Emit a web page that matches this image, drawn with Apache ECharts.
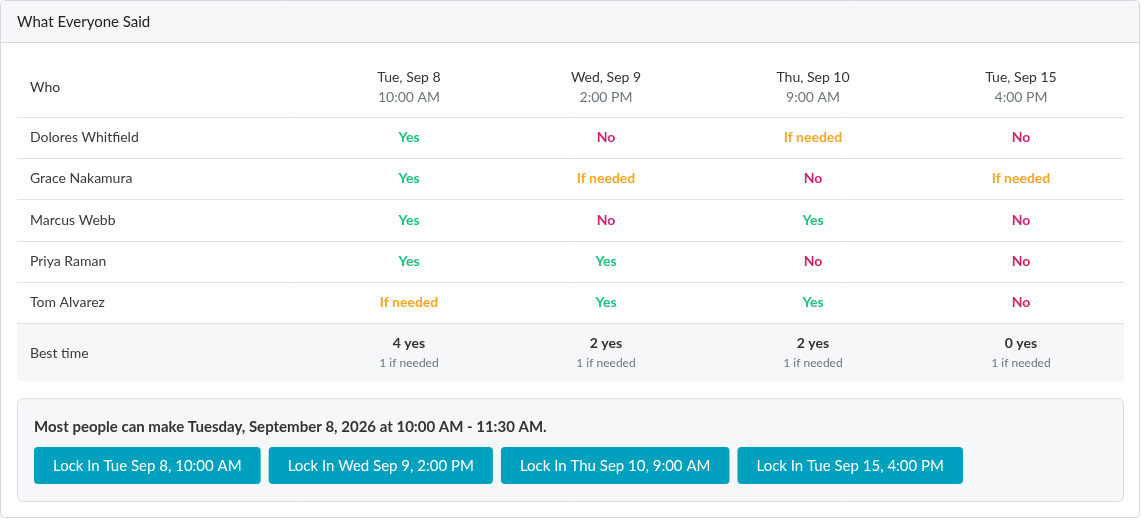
<!DOCTYPE html>
<html>
<head>
<meta charset="utf-8">
<script src="https://cdn.jsdelivr.net/npm/echarts@6/dist/echarts.min.js"></script>
<style>
    html, body { margin: 0; padding: 0; background: #fff; }
    #main { width: 1141px; height: 520px; }
</style>
</head>
<body>
<div id="main"></div>
<script>
var people = ['Dolores Whitfield', 'Grace Nakamura', 'Marcus Webb', 'Priya Raman', 'Tom Alvarez'];
var slotDays = ['Tue, Sep 8', 'Wed, Sep 9', 'Thu, Sep 10', 'Tue, Sep 15'];
var slotTimes = ['10:00 AM', '2:00 PM', '9:00 AM', '4:00 PM'];
var answers = [
    ['Yes', 'No', 'If needed', 'No'],
    ['Yes', 'If needed', 'No', 'If needed'],
    ['Yes', 'No', 'Yes', 'No'],
    ['Yes', 'Yes', 'No', 'No'],
    ['If needed', 'Yes', 'Yes', 'No']
];
var yesCounts = [4, 2, 2, 0];
var ifNeededCounts = [1, 1, 1, 1];
var buttonLabels = ['Lock In Tue Sep 8, 10:00 AM', 'Lock In Wed Sep 9, 2:00 PM', 'Lock In Thu Sep 10, 9:00 AM', 'Lock In Tue Sep 15, 4:00 PM'];
var summary = 'Most people can make Tuesday, September 8, 2026 at 10:00 AM - 11:30 AM.';

var FONT = 'Lato, "Noto Sans", sans-serif';
var answerColor = { 'Yes': '#1cc47a', 'No': '#d1236b', 'If needed': '#f5a623' };
var colX = [409, 606, 813, 1021];
var rowY0 = 117, rowH = 41.2;

var els = [];
function txt(x, y, s, opt) {
    opt = opt || {};
    els.push({
        type: 'text', x: x, y: y, silent: true,
        style: {
            text: s, fill: opt.color || '#3a3a3a', font: (opt.weight || 'normal') + ' ' + (opt.size || 14) + 'px ' + FONT,
            align: opt.align || 'left', verticalAlign: 'middle'
        }
    });
}
function rect(x, y, w, h, fill, stroke, r) {
    els.push({ type: 'rect', silent: true, shape: { x: x, y: y, width: w, height: h, r: r || 0 },
        style: { fill: fill, stroke: stroke || null, lineWidth: 1 } });
}
function hline(y, x1, x2, c) {
    els.push({ type: 'line', silent: true, shape: { x1: x1, y1: y, x2: x2, y2: y }, style: { stroke: c || '#dee2e6', lineWidth: 1 } });
}

// card
rect(0.5, 0.5, 1139, 517, '#fff', '#d6d8db', 4);
rect(1, 1, 1138, 41, '#f7f7f9', null, 4);
hline(42.5, 1, 1139, '#d6d8db');
txt(17, 22, 'What Everyone Said', { size: 15, color: '#222' });

// table header
txt(30, 87, 'Who', { size: 14, color: '#333' });
slotDays.forEach(function (d, i) {
    txt(colX[i], 77, d, { align: 'center', color: '#333' });
    txt(colX[i], 97, slotTimes[i], { align: 'center', color: '#6c757d' });
});

// rows
people.forEach(function (p, r) {
    var y = rowY0 + r * rowH;
    hline(Math.round(y) + 0.5, 17, 1124);
    txt(30, y + rowH / 2, p, { color: '#3a3a3a' });
    answers[r].forEach(function (a, c) {
        txt(colX[c], y + rowH / 2, a, { align: 'center', weight: 'bold', color: answerColor[a] });
    });
});
var bestY = rowY0 + people.length * rowH;
rect(17, bestY, 1107, 58, '#f6f7f9');
hline(Math.round(bestY) + 0.5, 17, 1124);
txt(30, bestY + 30, 'Best time', { color: '#3a3a3a' });
yesCounts.forEach(function (n, c) {
    txt(colX[c], bestY + 20, n + ' yes', { align: 'center', weight: 'bold', color: '#333' });
    txt(colX[c], bestY + 40, ifNeededCounts[c] + ' if needed', { align: 'center', size: 12, color: '#6c757d' });
});

// summary box
rect(17.5, 398.5, 1106, 103, '#f6f7f9', '#dcdfe3', 5);
txt(34, 427, summary, { size: 15, weight: 'bold', color: '#333' });
var bx = 34;
buttonLabels.forEach(function (b) {
    var w = echarts.format.getTextRect ? echarts.format.getTextRect(b, '15px ' + FONT).width + 38 : b.length * 8.4 + 38;
    rect(bx, 447, w, 37, '#00a0bf', null, 4);
    txt(bx + w / 2, 466, b, { align: 'center', size: 15, color: '#fff' });
    bx += w + 8;
});

var chart = echarts.init(document.getElementById('main'), null, { renderer: 'canvas' });
chart.setOption({ animation: false, graphic: { elements: els } });
</script>
</body>
</html>
